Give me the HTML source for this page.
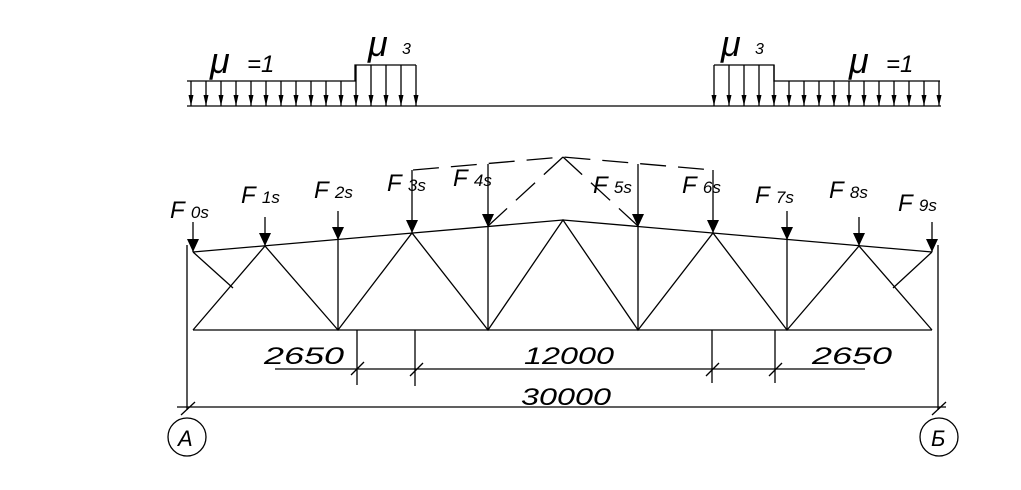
<!DOCTYPE html>
<html><head><meta charset="utf-8"><style>html,body{margin:0;padding:0;background:#fff}svg{display:block}
text{font-family:"Liberation Sans",sans-serif;font-style:italic;fill:#000}</style></head><body>
<svg width="1021" height="490" viewBox="0 0 1021 490" xmlns="http://www.w3.org/2000/svg">
<defs>
<marker id="a" markerUnits="userSpaceOnUse" markerWidth="12" markerHeight="10" refX="11" refY="5" orient="auto" viewBox="0 0 12 10"><path d="M0 2.5 L0 7.5 L11 5 Z" fill="#000"/></marker>
<marker id="b" markerUnits="userSpaceOnUse" markerWidth="14" markerHeight="12" refX="13" refY="6" orient="auto" viewBox="0 0 14 12"><path d="M0 0 L0 12 L13 6 Z" fill="#000"/></marker>
</defs>
<g stroke="#000" stroke-width="1.3" fill="none">
<line x1="187" y1="106" x2="941" y2="106"/>
<polyline points="187,81 355,81 355,65 416,65"/>
<polyline points="714,65 774,65 774,81 940,81"/>
<g marker-end="url(#a)">
<line x1="191" y1="81" x2="191" y2="106"/><line x1="206" y1="81" x2="206" y2="106"/><line x1="221" y1="81" x2="221" y2="106"/><line x1="236" y1="81" x2="236" y2="106"/><line x1="251" y1="81" x2="251" y2="106"/><line x1="266" y1="81" x2="266" y2="106"/><line x1="281" y1="81" x2="281" y2="106"/><line x1="296" y1="81" x2="296" y2="106"/><line x1="311" y1="81" x2="311" y2="106"/><line x1="326" y1="81" x2="326" y2="106"/><line x1="341" y1="81" x2="341" y2="106"/><line x1="356" y1="65" x2="356" y2="106"/><line x1="371" y1="65" x2="371" y2="106"/><line x1="386" y1="65" x2="386" y2="106"/><line x1="401" y1="65" x2="401" y2="106"/><line x1="416" y1="65" x2="416" y2="106"/>
<line x1="714" y1="65" x2="714" y2="106"/><line x1="729" y1="65" x2="729" y2="106"/><line x1="744" y1="65" x2="744" y2="106"/><line x1="759" y1="65" x2="759" y2="106"/><line x1="774" y1="65" x2="774" y2="106"/><line x1="789" y1="81" x2="789" y2="106"/><line x1="804" y1="81" x2="804" y2="106"/><line x1="819" y1="81" x2="819" y2="106"/><line x1="834" y1="81" x2="834" y2="106"/><line x1="849" y1="81" x2="849" y2="106"/><line x1="864" y1="81" x2="864" y2="106"/><line x1="879" y1="81" x2="879" y2="106"/><line x1="894" y1="81" x2="894" y2="106"/><line x1="909" y1="81" x2="909" y2="106"/><line x1="924" y1="81" x2="924" y2="106"/><line x1="939" y1="81" x2="939" y2="106"/>
</g>
<polyline points="193,252 563,220 932,252"/>
<line x1="193" y1="330" x2="932" y2="330"/>
<line x1="187" y1="245" x2="187" y2="410"/>
<line x1="938" y1="245" x2="938" y2="410"/>
<polyline points="193,330 265,246 338,330 412,233 488,330 563,220 638,330 713,233 787,330 859,246 932,330"/>
<line x1="338" y1="240" x2="338" y2="330"/><line x1="488" y1="227" x2="488" y2="330"/>
<line x1="638" y1="227" x2="638" y2="330"/><line x1="787" y1="240" x2="787" y2="330"/>
<line x1="193" y1="252" x2="233" y2="288"/><line x1="932" y1="252" x2="893" y2="288"/>
<g stroke-dasharray="26,12">
<polyline points="413,170 563,157 713,170"/>
<line x1="563" y1="157" x2="488" y2="226"/>
<line x1="563" y1="157" x2="638" y2="226"/>
</g>
<g marker-end="url(#b)">
<line x1="193" y1="222" x2="193" y2="252"/><line x1="265" y1="217" x2="265" y2="246"/><line x1="338" y1="211" x2="338" y2="240"/><line x1="412" y1="170" x2="412" y2="233"/><line x1="488" y1="164" x2="488" y2="227"/>
<line x1="638" y1="164" x2="638" y2="227"/><line x1="713" y1="170" x2="713" y2="233"/><line x1="787" y1="211" x2="787" y2="240"/><line x1="859" y1="217" x2="859" y2="246"/><line x1="932" y1="222" x2="932" y2="252"/>
</g>
<line x1="275" y1="369" x2="865" y2="369"/>
<line x1="357" y1="330" x2="357" y2="385"/><line x1="415" y1="330" x2="415" y2="386"/>
<line x1="712" y1="330" x2="712" y2="383"/><line x1="775" y1="330" x2="775" y2="383"/>
<line x1="351" y1="375" x2="364" y2="362"/><line x1="410" y1="376" x2="423" y2="363"/>
<line x1="706" y1="376" x2="719" y2="363"/><line x1="769" y1="376" x2="782" y2="363"/>
<line x1="177" y1="407" x2="946" y2="407"/>
<line x1="181" y1="415" x2="195" y2="402"/><line x1="932" y1="415" x2="946" y2="402"/>
<circle cx="187" cy="437" r="19"/><circle cx="939" cy="437" r="19"/>
</g>
<g font-size="24">
<text x="210" y="73" font-size="36">μ</text><text x="247" y="72" font-size="24">=1</text>
<text x="368" y="56" font-size="36">μ</text><text x="402" y="54" font-size="16">3</text>
<text x="721" y="56" font-size="36">μ</text><text x="755" y="54" font-size="16">3</text>
<text x="849" y="73" font-size="36">μ</text><text x="886" y="72" font-size="24">=1</text>
<text x="170" y="218">F <tspan font-size="17">0s</tspan></text>
<text x="241" y="203">F <tspan font-size="17">1s</tspan></text>
<text x="314" y="198">F <tspan font-size="17">2s</tspan></text>
<text x="387" y="191">F <tspan font-size="17">3s</tspan></text>
<text x="453" y="186">F <tspan font-size="17">4s</tspan></text>
<text x="593" y="193">F <tspan font-size="17">5s</tspan></text>
<text x="682" y="193">F <tspan font-size="17">6s</tspan></text>
<text x="755" y="203">F <tspan font-size="17">7s</tspan></text>
<text x="829" y="198">F <tspan font-size="17">8s</tspan></text>
<text x="898" y="211">F <tspan font-size="17">9s</tspan></text>
</g>
<g font-size="24">
<text x="264" y="364" textLength="80" lengthAdjust="spacingAndGlyphs">2650</text>
<text x="524" y="364" textLength="90" lengthAdjust="spacingAndGlyphs">12000</text>
<text x="812" y="364" textLength="80" lengthAdjust="spacingAndGlyphs">2650</text>
<text x="521" y="405" textLength="90" lengthAdjust="spacingAndGlyphs">30000</text>
<text x="178" y="446" font-size="22">A</text>
<text x="931" y="446" font-size="22">Б</text>
</g>
</svg>
</body></html>
